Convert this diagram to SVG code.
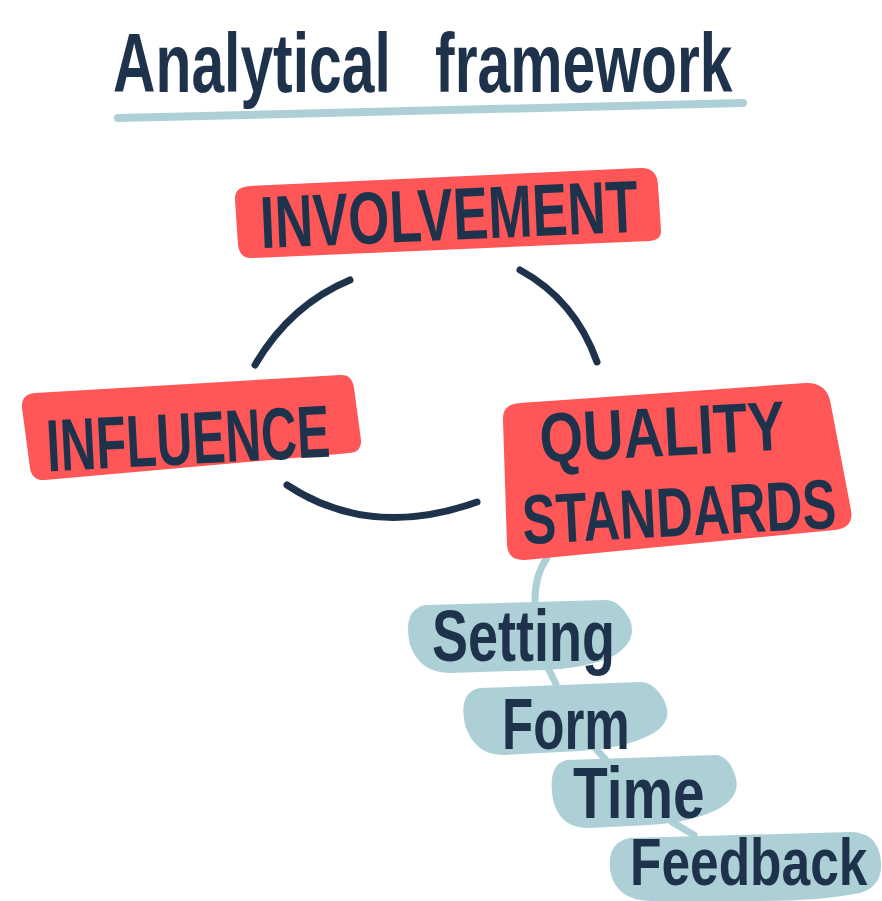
<svg xmlns="http://www.w3.org/2000/svg" width="882" height="901" viewBox="0 0 882 901">
<style>
.bg{fill:#ffffff}
.red{fill:#FF5757}
.blue{fill:#ADD0D7}
.lbl{font-family:"Liberation Sans","DejaVu Sans",sans-serif;font-weight:700;fill:#1E334B}
.arc{fill:none;stroke:#1E334B;stroke-width:7;stroke-linecap:round}
.link{fill:none;stroke:#ADD0D7;stroke-width:7;stroke-linecap:round}
</style>
<rect class="bg" x="0" y="0" width="882" height="901"/>
<g id="title">
<text class="lbl" x="0" y="0" font-size="84" word-spacing="40" transform="translate(113,92) scale(0.70,1)">Analytical framework</text>
<path d="M118,118 L743,103" fill="none" stroke="#ADD0D7" stroke-width="8" stroke-linecap="round"/>
</g>
<g id="connectors">
<path class="arc" d="M350,280 Q290,305 255,365"/>
<path class="arc" d="M520,270 Q575,300 597,362"/>
<path class="arc" d="M287,485 Q370,540 477,502"/>
<path class="link" d="M547,558 Q535,575 535,600"/>
<path class="link" d="M548,668 L556,684"/>
<path class="link" d="M595,748 L606,760"/>
<path class="link" d="M672,822 L694,835"/>
</g>
<g id="involvement">
<path class="red" d="M250,186 L640,168 Q657,167 658,185 L661,230 Q662,240 650,241 L252,258 Q240,259 238,245 L235,200 Q234,187 250,186 Z"/>
<text class="lbl" x="0" y="26" font-size="74" text-anchor="middle" transform="translate(449,214) rotate(-2.5) scale(0.715,1)">INVOLVEMENT</text>
</g>
<g id="influence">
<path class="red" d="M35,393 L340,375 Q352,374 354,388 L361,440 Q362,452 350,453 L45,480 Q32,481 30,468 L22,408 Q21,394 35,393 Z"/>
<text class="lbl" x="0" y="27" font-size="74" text-anchor="middle" transform="translate(188,437) rotate(-3) scale(0.67,1)">INFLUENCE</text>
</g>
<g id="quality-standards">
<path class="red" d="M520,403 L805,383 Q825,382 830,400 L851,510 Q854,528 835,530 L525,560 Q508,561 507,545 L503,420 Q502,404 520,403 Z"/>
<text class="lbl" x="0" y="26" font-size="70" text-anchor="middle" transform="translate(662,430) rotate(-3) scale(0.80,1)">QUALITY</text>
<text class="lbl" x="0" y="26" font-size="70" text-anchor="middle" transform="translate(679,510) rotate(-3) scale(0.724,1)">STANDARDS</text>
</g>
<g id="setting">
<path class="blue" d="M425,605 L605,600 Q620,600 630,620 Q638,640 615,655 Q590,668 545,670 L450,673 Q420,673 410,645 Q402,610 425,605 Z"/>
<text class="lbl" x="0" y="0" font-size="72" transform="translate(432,661) scale(0.75,1)">Setting</text>
</g>
<g id="form">
<path class="blue" d="M480,688 L640,682 Q655,682 665,702 Q674,722 650,735 Q625,748 580,751 L505,755 Q475,756 465,725 Q458,692 480,688 Z"/>
<text class="lbl" x="0" y="0" font-size="72" transform="translate(502,749) scale(0.71,1)">Form</text>
</g>
<g id="time">
<path class="blue" d="M567,760 L715,755 Q728,755 735,775 Q742,795 720,808 Q695,822 650,825 L590,828 Q560,829 553,800 Q547,764 567,760 Z"/>
<text class="lbl" x="0" y="0" font-size="72" transform="translate(573,818) scale(0.79,1)">Time</text>
</g>
<g id="feedback">
<path class="blue" d="M630,838 L850,832 Q875,832 880,855 Q886,885 860,893 Q820,901 760,901 L650,901 Q615,900 610,870 Q607,842 630,838 Z"/>
<text class="lbl" x="0" y="0" font-size="66" transform="translate(630,885) scale(0.78,1)">Feedback</text>
</g>
</svg>
